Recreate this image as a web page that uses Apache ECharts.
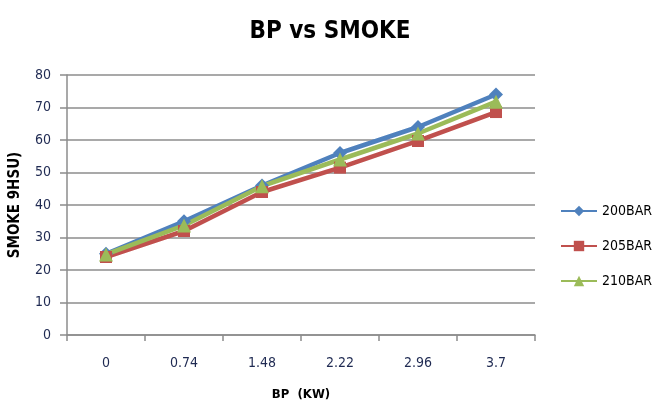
<!DOCTYPE html>
<html><head><meta charset="utf-8">
<script src="https://cdn.jsdelivr.net/npm/echarts@6/dist/echarts.min.js"></script>
<style>html,body{margin:0;padding:0;background:#fff}#c{width:660px;height:406px}</style>
</head><body><div id="c"></div>
<script>
const categories = ['0', '0.74', '1.48', '2.22', '2.96', '3.7'];
const bar200 = [25, 35, 46, 56, 64, 74];
const bar205 = [24, 32, 44, 51.5, 59.7, 68.6];
const bar210 = [24.8, 33.7, 45.8, 54, 62, 71.8];
const seriesNames = ['200BAR', '205BAR', '210BAR'];
const yTicks = {min: 0, max: 80, interval: 10};

const FONT = '"Liberation Sans Narrow", "DejaVu Sans Condensed", sans-serif';
const labelColor = '#1f2a52';
const chart = echarts.init(document.getElementById('c'), null, {renderer: 'canvas'});
function s(name, data, color, symbol, size) {
  return {name, type: 'line', data, symbol, symbolSize: size, showSymbol: true,
    lineStyle: {color, width: 4.5}, itemStyle: {color}, emphasis: {disabled: true}, animation: false};
}
chart.setOption({
  animation: false,
  backgroundColor: '#fff',
  title: {text: 'BP vs SMOKE', left: 'center', top: 15, textStyle: {fontFamily: FONT, fontSize: 24, fontWeight: 'bold', color: '#000'}},
  grid: {left: 66, right: 125, top: 75, bottom: 69},
  legend: {orient: 'vertical', left: 555, top: 199, itemGap: 21, itemWidth: 36, itemHeight: 13,
    textStyle: {fontFamily: FONT, fontSize: 14, color: '#000'}, data: seriesNames},
  xAxis: {type: 'category', data: categories, boundaryGap: true,
    name: 'BP  (KW)', nameLocation: 'middle', nameGap: 53,
    nameTextStyle: {fontFamily: FONT, fontSize: 13, fontWeight: 'bold', color: '#000'},
    axisLine: {lineStyle: {color: '#8c8c8c', width: 1.5}},
    axisTick: {show: true, alignWithLabel: false, length: 6, lineStyle: {color: '#8c8c8c', width: 1.5}},
    axisLabel: {margin: 21, fontFamily: FONT, fontSize: 14, color: labelColor}},
  yAxis: {type: 'value', min: yTicks.min, max: yTicks.max, interval: yTicks.interval,
    name: 'SMOKE 9HSU)', nameLocation: 'middle', nameGap: 44, nameRotate: 90,
    nameTextStyle: {fontFamily: FONT, fontSize: 15, fontWeight: 'bold', color: '#000'},
    axisLine: {show: true, lineStyle: {color: '#8c8c8c', width: 1.5}},
    axisTick: {show: true, length: 7, lineStyle: {color: '#8c8c8c', width: 1.5}},
    axisLabel: {margin: 16, fontFamily: FONT, fontSize: 14, color: labelColor},
    splitLine: {lineStyle: {color: '#8c8c8c', width: 1.5}}},
  series: [
    s(seriesNames[0], bar200, '#4f81bd', 'diamond', 14),
    s(seriesNames[1], bar205, '#c0504d', 'rect', 12),
    s(seriesNames[2], bar210, '#9bbb59', 'triangle', 14)
  ]
});
</script></body></html>
